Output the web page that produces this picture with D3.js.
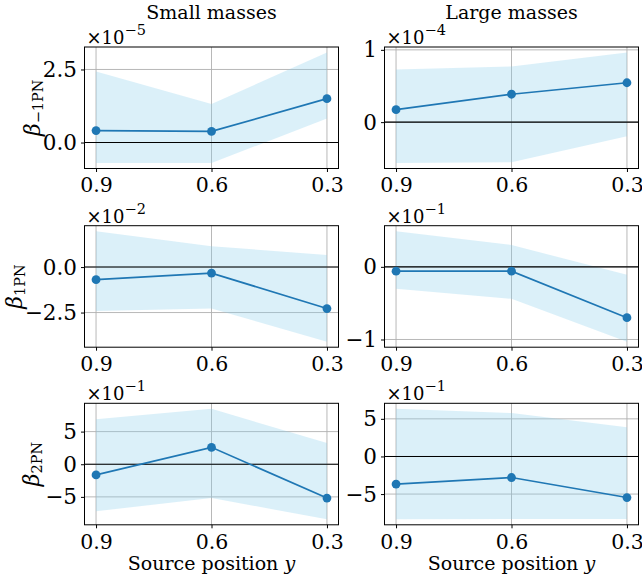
<!DOCTYPE html>
<html><head><meta charset="utf-8">
<script src="https://cdn.jsdelivr.net/npm/d3@7"></script>
<style>
body{margin:0;background:#fff}
</style>
</head><body>
<svg id="fig" width="642" height="584"></svg>
<script>
// Source positions along y (axis runs from 0.9 down to 0.3)
const sourcePositions = [0.9, 0.6, 0.3];
const columnTitles = ["Small masses", "Large masses"];
const rowSubscripts = ["−1PN", "1PN", "2PN"];

// Median and credible band of each coefficient, small / large masses
const smallM1Median = [0.41e-5, 0.38e-5, 1.50e-5];
const smallM1Lower  = [-0.70e-5, -0.70e-5, 0.82e-5];
const smallM1Upper  = [2.43e-5, 1.32e-5, 3.08e-5];
const largeM1Median = [0.172e-4, 0.386e-4, 0.545e-4];
const largeM1Lower  = [-0.565e-4, -0.555e-4, -0.196e-4];
const largeM1Upper  = [0.727e-4, 0.770e-4, 0.963e-4];

const small1Median = [-0.69e-2, -0.33e-2, -2.28e-2];
const small1Lower  = [-2.41e-2, -2.28e-2, -4.10e-2];
const small1Upper  = [1.97e-2, 1.14e-2, 0.67e-2];
const large1Median = [-0.06e-1, -0.06e-1, -0.70e-1];
const large1Lower  = [-0.30e-1, -0.44e-1, -1.03e-1];
const large1Upper  = [0.49e-1, 0.30e-1, -0.11e-1];

const small2Median = [-1.63e-1, 2.59e-1, -5.18e-1];
const small2Lower  = [-7.20e-1, -5.18e-1, -8.43e-1];
const small2Upper  = [6.90e-1, 8.49e-1, 3.25e-1];
const large2Median = [-3.67e-1, -2.80e-1, -5.46e-1];
const large2Lower  = [-8.35e-1, -8.32e-1, -8.30e-1];
const large2Upper  = [6.33e-1, 5.76e-1, 3.88e-1];

// Axis offset exponents and tick values (in offset units) per panel
const offsetExponents = [[-5, -4], [-2, -1], [-1, -1]];
const tickValues = [[[0, 2.5], [0, 1]], [[-2.5, 0], [-1, 0]], [[-5, 0, 5], [-5, 0, 5]]];
const tickLabels = [[["0.0", "2.5"], ["0", "1"]], [["−2.5", "0.0"], ["−1", "0"]], [["−5", "0", "5"], ["−5", "0", "5"]]];
const xTickLabels = ["0.9", "0.6", "0.3"];

const series = [
  [[smallM1Median, smallM1Lower, smallM1Upper], [largeM1Median, largeM1Lower, largeM1Upper]],
  [[small1Median, small1Lower, small1Upper], [large1Median, large1Lower, large1Upper]],
  [[small2Median, small2Lower, small2Upper], [large2Median, large2Lower, large2Upper]]
];

const FONT = "DejaVu Serif";
const svg = d3.select("#fig");
const colLeft = [84.5, 384.5], panelW = 254;
const rowTop = [47, 225.7, 403.3], panelH = 121.5;
const yLabelX = [32, 14, 31];
const blue = "#1f77b4";

function padded(ext, f = 0.05) {
  const d = (ext[1] - ext[0]) * f;
  return [ext[0] - d, ext[1] + d];
}

const xExt = padded(d3.extent(sourcePositions));

series.forEach((row, r) => {
  row.forEach(([med, lo, hi], c) => {
    const scale = Math.pow(10, -offsetExponents[r][c]);
    const x0 = colLeft[c], y0 = rowTop[r];
    const x = d3.scaleLinear().domain([xExt[1], xExt[0]]).range([x0, x0 + panelW]);
    const yExt = padded([d3.min(lo) * scale, d3.max(hi) * scale]);
    const y = d3.scaleLinear().domain(yExt).range([y0 + panelH, y0]);
    const g = svg.append("g");

    // grid
    g.selectAll(".gx").data(sourcePositions).join("line")
      .attr("x1", d => x(d)).attr("x2", d => x(d))
      .attr("y1", y0).attr("y2", y0 + panelH)
      .attr("stroke", "#b0b0b0").attr("stroke-width", 0.9);
    g.selectAll(".gy").data(tickValues[r][c]).join("line")
      .attr("x1", x0).attr("x2", x0 + panelW)
      .attr("y1", d => y(d)).attr("y2", d => y(d))
      .attr("stroke", "#b0b0b0").attr("stroke-width", 0.9);

    // credible band
    const pts = sourcePositions.map((p, i) => ({p, lo: lo[i] * scale, hi: hi[i] * scale, m: med[i] * scale}));
    g.append("path").datum(pts)
      .attr("d", d3.area().x(d => x(d.p)).y0(d => y(d.lo)).y1(d => y(d.hi)))
      .attr("fill", "#87ceeb").attr("fill-opacity", 0.3);

    // zero reference
    g.append("line").attr("x1", x0).attr("x2", x0 + panelW)
      .attr("y1", y(0)).attr("y2", y(0))
      .attr("stroke", "#000").attr("stroke-width", 1.1);

    // median line + markers
    g.append("path").datum(pts)
      .attr("d", d3.line().x(d => x(d.p)).y(d => y(d.m)))
      .attr("fill", "none").attr("stroke", blue).attr("stroke-width", 1.7);
    g.selectAll(".pt").data(pts).join("circle")
      .attr("cx", d => x(d.p)).attr("cy", d => y(d.m)).attr("r", 4.4)
      .attr("fill", blue);

    // frame
    g.append("rect").attr("x", x0).attr("y", y0).attr("width", panelW).attr("height", panelH)
      .attr("fill", "none").attr("stroke", "#000").attr("stroke-width", 1);

    // axes
    const ax = g.append("g").attr("transform", `translate(0,${y0 + panelH})`)
      .call(d3.axisBottom(x).tickValues(sourcePositions).tickFormat((d, i) => xTickLabels[i]).tickSizeOuter(0).tickSize(3.5).tickPadding(4));
    const ay = g.append("g").attr("transform", `translate(${x0},0)`)
      .call(d3.axisLeft(y).tickValues(tickValues[r][c]).tickFormat((d, i) => tickLabels[r][c][i]).tickSizeOuter(0).tickSize(3.5).tickPadding(4));
    [ax, ay].forEach(a => {
      a.attr("font-family", FONT).attr("font-size", 21.5);
      a.select(".domain").remove();
      a.selectAll("line").attr("stroke", "#000").attr("stroke-width", 1);
      a.selectAll("text").attr("fill", "#000");
    });
    ay.selectAll("text").attr("dy", "0.33em");
    ax.attr("font-size", 20.5);
    ax.selectAll("text").attr("dy", "0.8em");

    // offset label ×10^n
    const ot = g.append("text").attr("x", x0 + 2).attr("y", y0 - 3)
      .attr("font-family", FONT).attr("font-size", 18);
    ot.append("tspan").text("×10");
    ot.append("tspan").attr("dy", -9).attr("font-size", 14.5).text("−" + Math.abs(offsetExponents[r][c]));

    // y label on the left column
    if (c === 0) {
      const cy = y0 + panelH / 2;
      const yl = g.append("text").attr("transform", `translate(${yLabelX[r]},${cy}) rotate(-90)`)
        .attr("text-anchor", "middle").attr("dominant-baseline", "central")
        .attr("font-family", FONT).attr("font-size", 22);
      yl.append("tspan").attr("font-style", "italic").text("β");
      yl.append("tspan").attr("font-size", 14.5).attr("dy", 6).text(rowSubscripts[r]);
    }
  });
});

// column titles
columnTitles.forEach((t, c) => {
  svg.append("text").attr("x", colLeft[c] + panelW / 2).attr("y", 19)
    .attr("text-anchor", "middle").attr("font-family", FONT).attr("font-size", 19).text(t);
});

// x labels
[0, 1].forEach(c => {
  const t = svg.append("text").attr("x", colLeft[c] + panelW / 2).attr("y", 570)
    .attr("text-anchor", "middle").attr("font-family", FONT).attr("font-size", 19);
  t.append("tspan").text("Source position ");
  t.append("tspan").attr("font-style", "italic").text("y");
});
</script>
</body></html>
